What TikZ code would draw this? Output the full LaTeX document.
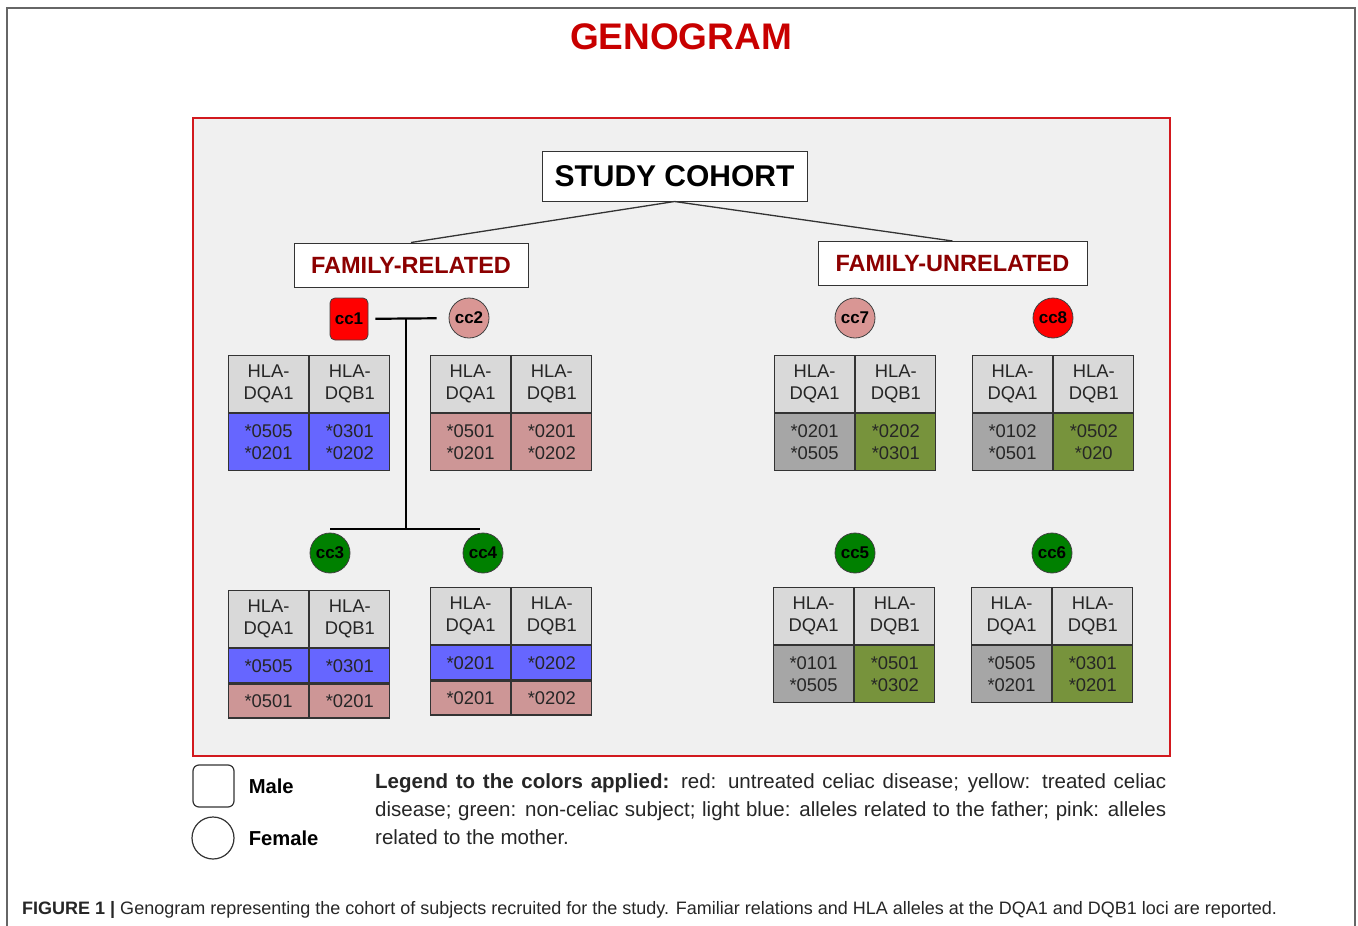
\documentclass[tikz,border=0pt]{standalone}
\usepackage{fontspec}
\setmainfont{Liberation Sans}
\usepackage{tikz}
\usetikzlibrary{positioning}
\definecolor{titlered}{RGB}{200,0,0}
\definecolor{boxred}{RGB}{140,0,0}
\definecolor{framered}{RGB}{210,25,30}
\definecolor{panelgray}{RGB}{240,240,240}
\definecolor{hdrgray}{RGB}{217,217,217}
\definecolor{allelegray}{RGB}{166,166,166}
\definecolor{allelegreen}{RGB}{119,147,60}
\definecolor{fatherblue}{RGB}{102,102,255}
\definecolor{motherpink}{RGB}{205,150,150}
\definecolor{femalepink}{RGB}{217,150,148}
\definecolor{healthygreen}{RGB}{0,128,0}
\newcommand\myfs[2]{\fontsize{#1}{#2}\selectfont}
% header of an HLA table, top left corner at #2
\newcommand\hlahead[2]{%
  \node[hlahdr,anchor=north west] (#1a) at (#2) {HLA-\\DQA1};
  \node[hlahdr,right=0pt of #1a] (#1b) {HLA-\\DQB1};
}
% one row of alleles below row #3
\newcommand\hlarow[7][57pt]{%
  \node[hlacell,minimum height=#1,fill=#4,below=0pt of #3a] (#2a) {#6};
  \node[hlacell,minimum height=#1,fill=#5,below=0pt of #3b] (#2b) {#7};
}

\begin{document}
\begin{tikzpicture}[
x=1pt, y=-1pt,
group/.style={
  draw=black!80,
  fill=white,
  line width=1pt,
  inner sep=0pt,
  minimum height=44pt,
  font=\bfseries\myfs{23.5}{26},
  text=boxred},
person/.style={
  draw=black!75,
  line width=0.8pt,
  inner sep=0pt,
  font=\bfseries\myfs{17}{17}},
male/.style={person, rectangle, rounded corners=5pt, minimum width=38pt, minimum height=42pt},
female/.style={person, circle, minimum size=40pt},
hlahdr/.style={
  draw=black!80,
  line width=1.2pt,
  fill=hdrgray,
  minimum width=80pt,
  minimum height=57pt,
  inner sep=0pt,
  align=center,
  font=\myfs{18.4}{22},
  text=black!85},
hlacell/.style={hlahdr},
link/.style={draw=black!80, line width=1.3pt},
kin/.style={draw=black, line width=2.2pt}
]
\useasboundingbox (0,0) rectangle (1358,926);
% page frame and panel
\draw[black!60, line width=2pt] (7,926) -- (7,8) -- (1355,8) -- (1355,926);
\draw[framered, fill=panelgray, line width=2.5pt] (193,118) rectangle (1170,756);
\node[font=\bfseries\myfs{37}{40}, text=titlered] (title) at (681,37) {GENOGRAM};

% cohort tree
\node[draw=black!80, fill=white, line width=1pt, minimum width=265pt, minimum height=50pt,
  inner sep=0pt, font=\bfseries\myfs{30}{32}] (study) at (674.5,176) {STUDY COHORT};
\node[group, minimum width=234pt] (famrel) at (411,265) {FAMILY-RELATED};
\node[group, minimum width=269pt] (famunrel) at (952.5,263.5) {FAMILY-UNRELATED};
\draw[link] (study.south) -- (famrel.north);
\draw[link] (study.south) -- (famunrel.north);

% subjects
\node[male, fill=red] (cc1) at (349,319) {cc1};
\node[female, fill=femalepink] (cc2) at (469,318) {cc2};
\node[female, fill=healthygreen] (cc3) at (330,553) {cc3};
\node[female, fill=healthygreen] (cc4) at (483,553) {cc4};
\node[female, fill=healthygreen] (cc5) at (855,553) {cc5};
\node[female, fill=healthygreen] (cc6) at (1052,553) {cc6};
\node[female, fill=femalepink] (cc7) at (855,318) {cc7};
\node[female, fill=red] (cc8) at (1053,318) {cc8};

% family lines
\coordinate (couple) at (406,318);
\coordinate (sibs) at (406,529);
\draw[kin, shorten <=7pt, shorten >=12pt] (cc1) -- (cc2);
\draw[kin] (couple) -- (sibs);
\draw[kin] (cc3.north |- sibs) -- ([xshift=-3pt]cc4.north |- sibs);

% HLA tables
\hlahead{t1}{228,355}
\hlarow{t1d}{t1}{fatherblue}{fatherblue}{*0505\\*0201}{*0301\\*0202}
\hlahead{t2}{430,355}
\hlarow{t2d}{t2}{motherpink}{motherpink}{*0501\\*0201}{*0201\\*0202}
\hlahead{t3}{228,590}
\hlarow[34pt]{t3f}{t3}{fatherblue}{fatherblue}{*0505}{*0301}
\hlarow[34pt]{t3m}{t3f}{motherpink}{motherpink}{*0501}{*0201}
\hlahead{t4}{430,587}
\hlarow[34pt]{t4f}{t4}{fatherblue}{fatherblue}{*0201}{*0202}
\hlarow[34pt]{t4m}{t4f}{motherpink}{motherpink}{*0201}{*0202}
\hlahead{t5}{773,587}
\hlarow{t5d}{t5}{allelegray}{allelegreen}{*0101\\*0505}{*0501\\*0302}
\hlahead{t6}{971,587}
\hlarow{t6d}{t6}{allelegray}{allelegreen}{*0505\\*0201}{*0301\\*0201}
\hlahead{t7}{774,355}
\hlarow{t7d}{t7}{allelegray}{allelegreen}{*0201\\*0505}{*0202\\*0301}
\hlahead{t8}{972,355}
\hlarow{t8d}{t8}{allelegray}{allelegreen}{*0102\\*0501}{*0502\\*020}

% legend
\node[draw=black!80, line width=1.2pt, rounded corners=6pt, inner sep=0pt,
  minimum width=41pt, minimum height=42pt] (keymale) at (213.5,786) {};
\node[draw=black!80, line width=1.2pt, circle, inner sep=0pt,
  minimum size=42pt] (keyfemale) at (213,838) {};
\node[right=14pt of keymale, inner sep=0pt, font=\bfseries\myfs{20.2}{24}] (malelbl) {Male};
\node[right=14pt of keyfemale, inner sep=0pt, font=\bfseries\myfs{20.2}{24}] (femalelbl) {Female};
\node[anchor=north west, inner sep=0pt, text width=791pt, align=justify,
  font=\myfs{20.5}{28}, text=black!85] (legend) at (375,773)
  {\textbf{Legend to the colors applied:} red: untreated celiac disease; yellow: treated celiac\linebreak
   disease; green: non-celiac subject; light blue: alleles related to the father; pink: alleles\linebreak
   related to the mother.};

% caption
\node[anchor=base west, inner sep=0pt, font=\myfs{18}{20}, text=black!85] (caption) at (22,914)
  {\textbf{FIGURE 1 |} Genogram representing the cohort of subjects recruited for the study. Familiar relations and HLA alleles at the DQA1 and DQB1 loci are reported.};
\end{tikzpicture}
\end{document}
